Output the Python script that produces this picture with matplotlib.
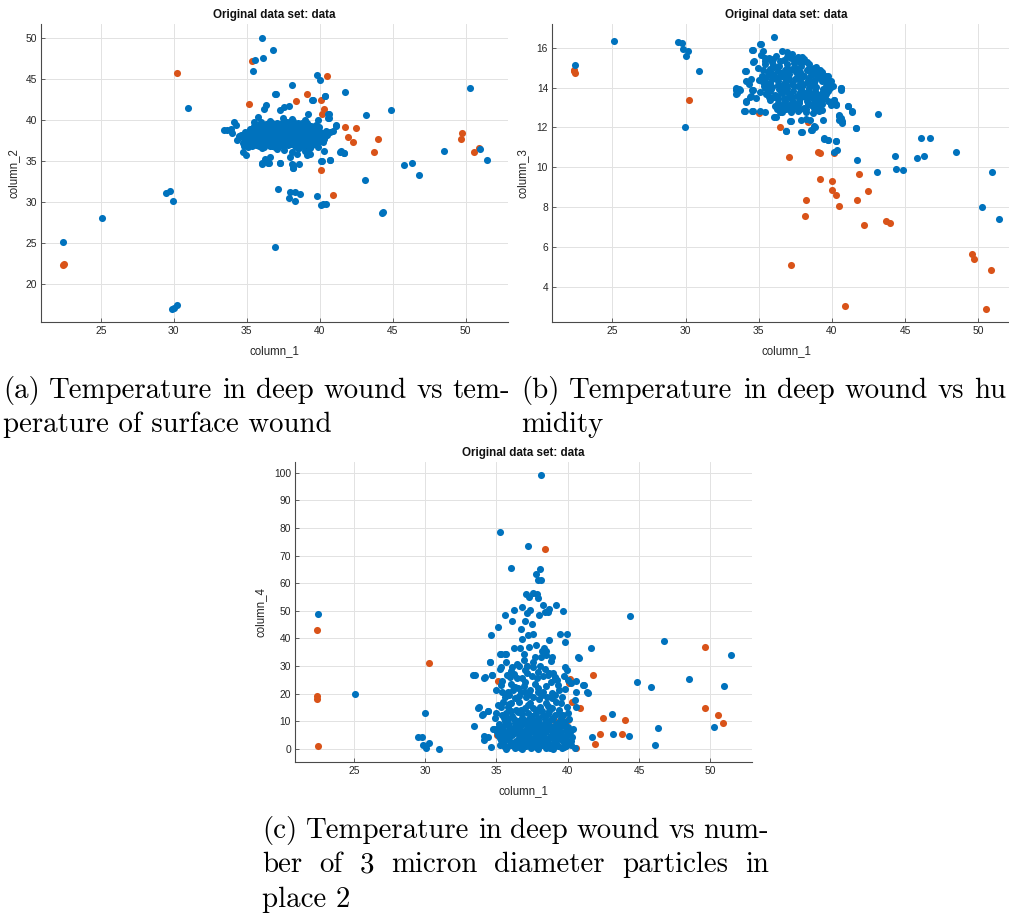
import matplotlib
matplotlib.use("Agg")
import matplotlib.pyplot as plt
import numpy as np

W, H = 1009, 917
BLUE = "#0072BD"
ORANGE = "#D95319"

# ---------------- panel (a): column_2 vs column_1 ----------------
a_blue = [
    # outliers
    (36.04, 50.0), (36.82, 48.58), (36.13, 47.52), (35.56, 47.27), (35.45, 45.93),
    (39.83, 45.52), (40.01, 44.87), (38.07, 44.26), (36.95, 43.2), (40.37, 42.92),
    (41.74, 43.41), (39.51, 42.47), (30.95, 41.41), (44.89, 41.25), (43.16, 40.6),
    (45.8, 34.45), (46.3, 34.74), (46.78, 33.27), (48.5, 36.2), (50.27, 43.94),
    (50.96, 36.4), (51.44, 35.1), (43.11, 32.7), (44.34, 28.7), (44.27, 28.6),
    (40.69, 35.1), (40.15, 34.94), (29.49, 31.07), (29.74, 31.32), (29.97, 30.06),
    (25.09, 28.06), (22.42, 25.13), (29.86, 16.87), (30.0, 17.03), (30.22, 17.32),
    (36.95, 24.4), (37.11, 31.6), (37.93, 31.2), (37.91, 30.42), (38.32, 31.12),
    (38.62, 30.91), (38.3, 30.14), (39.78, 30.63), (40.08, 29.65), (40.24, 29.69),
    (40.4, 29.77), (36.02, 34.66), (36.45, 34.74), (37.27, 34.74), (38.09, 34.57),
    (38.14, 34.17), (41.4, 36.12), (41.67, 36.0), (41.1, 39.25), (40.62, 40.76),
    (40.65, 40.27),
    # cluster edges
    (37.0, 43.17), (40.34, 42.9), (39.48, 42.36), (36.35, 41.75), (36.17, 41.34),
    (37.3, 41.14), (37.52, 41.54), (37.86, 41.67), (40.56, 40.65), (40.56, 40.24),
    (35.79, 40.33), (35.5, 39.72), (36.73, 39.63), (38.09, 40.12), (37.75, 39.72),
    (38.47, 39.51), (39.21, 40.65), (38.99, 40.0), (39.86, 39.92), (39.77, 39.31),
    (41.13, 39.31), (40.68, 38.5), (40.41, 38.1), (33.47, 38.78), (33.65, 38.7),
    (34.14, 39.72), (34.26, 39.31), (34.48, 37.97), (34.32, 37.56), (34.71, 37.15),
    (34.82, 36.75), (35.05, 36.67), (34.71, 36.06), (34.93, 35.65), (36.17, 36.67),
    (36.73, 36.75), (37.07, 36.46), (37.52, 36.34), (38.09, 36.06), (38.47, 35.77),
    (37.97, 35.45), (36.28, 35.24), (36.62, 35.45), (36.06, 34.72), (36.51, 34.72),
    (37.3, 34.72), (38.15, 34.43), (38.15, 34.15), (38.6, 34.55), (39.1, 35.65),
    (39.32, 35.85), (38.99, 36.14), (40.11, 34.92), (40.68, 35.04), (41.46, 36.14),
    (41.64, 35.98), (40.29, 36.14), (33.9, 38.9), (34.0, 38.4), (40.9, 38.6),
    # dense core
    (35.6, 36.9), (36.3, 37.0), (36.9, 36.7), (37.5, 36.8), (38.0, 37.1), (38.6, 36.6),
    (39.1, 36.9), (39.6, 37.0),
    (35.1, 37.3), (35.7, 37.4), (36.2, 37.2), (36.8, 37.3), (37.3, 37.5), (37.9, 37.2),
    (38.4, 37.4), (38.9, 37.3), (39.5, 37.2), (40.0, 37.5),
    (34.8, 37.7), (35.3, 37.8), (35.9, 37.6), (36.4, 37.7), (37.0, 37.9), (37.5, 37.6),
    (38.1, 37.8), (38.6, 37.7), (39.2, 37.6), (39.7, 37.9), (40.3, 37.7),
    (34.6, 38.2), (35.1, 38.0), (35.6, 38.1), (36.2, 38.2), (36.7, 38.0), (37.2, 38.1),
    (37.8, 38.3), (38.3, 38.0), (38.8, 38.1), (39.4, 38.2), (39.9, 38.0), (40.5, 38.2),
    (34.9, 38.5), (35.4, 38.6), (36.0, 38.4), (36.5, 38.5), (37.0, 38.6), (37.6, 38.4),
    (38.1, 38.5), (38.7, 38.6), (39.2, 38.4), (39.8, 38.5), (40.4, 38.6),
    (35.2, 38.9), (35.8, 39.0), (36.3, 38.8), (36.9, 38.9), (37.4, 39.0), (37.9, 38.8),
    (38.5, 38.9), (39.0, 39.0), (39.6, 38.8),
    (35.5, 39.3), (36.1, 39.2), (36.7, 39.4), (37.2, 39.3), (37.8, 39.2), (38.3, 39.4),
    (38.9, 39.3), (39.4, 39.2),
    (36.0, 39.7), (36.6, 39.8), (37.1, 39.6), (37.7, 39.7), (38.2, 39.8), (38.8, 39.6),
    (37.25, 38.3), (36.45, 37.95), (38.55, 38.35), (37.65, 37.05), (36.05, 36.6),
    (38.35, 36.7), (39.35, 36.5), (35.35, 37.05), (39.95, 39.1), (37.45, 40.2),
    (35.9, 37.1), (37.2, 37.1), (38.3, 37.0), (39.3, 37.5), (35.5, 37.55), (36.7, 37.5),
    (38.35, 37.6), (39.9, 37.3), (35.35, 38.3), (36.9, 38.3), (38.0, 38.2), (39.5, 38.6),
    (40.15, 38.4), (35.65, 38.75), (37.15, 38.75), (38.25, 38.7), (39.3, 38.75),
    (36.4, 39.1), (37.6, 39.0), (38.6, 39.1), (37.4, 39.55), (38.5, 39.6), (36.3, 39.5),
    (39.1, 39.6),
    (35.35, 36.85), (35.85, 36.8), (36.6, 36.85), (37.2, 36.75), (37.8, 36.9),
    (38.3, 36.85), (38.85, 36.75), (39.4, 36.8), (39.85, 36.7),
    (35.45, 37.2), (36.0, 37.3), (36.5, 37.35), (37.05, 37.2), (37.6, 37.35),
    (38.15, 37.25), (38.65, 37.2), (39.2, 37.3), (39.75, 37.4), (40.25, 37.3),
    (35.05, 37.6), (35.6, 37.7), (36.15, 37.55), (36.7, 37.75), (37.25, 37.7),
    (37.8, 37.6), (38.35, 37.75), (38.9, 37.55), (39.45, 37.7), (40.0, 37.65),
    (34.85, 38.05), (35.35, 38.1), (35.9, 38.0), (36.45, 38.15), (36.95, 38.05),
    (37.5, 38.2), (38.05, 38.0), (38.55, 38.15), (39.1, 38.05), (39.65, 38.15), (40.2, 38.1),
    (35.15, 38.45), (35.7, 38.5), (36.25, 38.55), (36.75, 38.45), (37.3, 38.5),
    (37.85, 38.55), (38.4, 38.45), (38.95, 38.5), (39.5, 38.4), (40.05, 38.55),
    (35.5, 38.85), (36.05, 38.9), (36.6, 38.95), (37.15, 38.85), (37.65, 38.9),
    (38.2, 38.95), (38.75, 38.85), (39.3, 38.95), (39.85, 38.85),
    (35.8, 39.3), (36.4, 39.35), (36.95, 39.25), (37.5, 39.35), (38.05, 39.3),
    (38.6, 39.25), (39.15, 39.35), (39.65, 39.25),
]
a_red = [
    (30.25, 45.73), (35.38, 47.15), (35.13, 41.98), (38.37, 42.35), (39.1, 43.2),
    (40.06, 42.47), (40.53, 45.32), (40.28, 41.29), (40.15, 40.68), (41.74, 39.09),
    (42.5, 38.97), (41.93, 37.95), (42.27, 37.3), (44.0, 37.63), (43.75, 36.08),
    (40.06, 33.92), (40.92, 30.79), (49.68, 37.71), (49.73, 38.36), (50.55, 36.04),
    (50.89, 36.61), (22.38, 22.32), (22.47, 22.36), (39.2, 36.4), (35.0, 37.9),
]

# ---------------- panel (b): column_3 vs column_1 ----------------
b_blue = [
    (22.45, 15.16), (25.09, 16.37), (29.49, 16.32), (29.74, 16.23), (29.85, 15.93),
    (30.19, 15.82), (30.03, 15.61), (30.94, 14.84), (29.96, 12.0), (36.02, 16.54),
    (35.11, 16.18), (34.56, 15.87), (34.61, 15.3), (34.06, 14.83), (33.42, 13.9),
    (33.42, 13.68), (33.65, 13.94), (33.97, 12.83), (34.52, 12.83), (34.1, 13.31),
    (34.4, 13.55), (34.56, 13.9), (36.07, 12.53), (36.84, 11.84), (37.14, 12.34),
    (37.89, 11.75), (38.59, 11.89), (38.84, 12.0), (39.39, 12.36), (39.48, 11.43),
    (39.75, 11.35), (40.25, 11.32), (40.32, 10.85), (40.14, 10.75), (41.12, 13.06),
    (41.39, 12.79), (41.62, 11.97), (41.71, 10.38), (40.6, 13.9), (40.62, 13.98),
    (40.48, 12.39), (40.71, 12.22), (40.48, 12.56), (40.25, 13.18), (40.14, 13.4),
    (43.12, 12.68), (43.08, 9.74), (44.28, 10.55), (44.35, 9.92), (44.85, 9.86),
    (46.08, 11.47), (46.72, 11.45), (45.81, 10.44), (46.27, 10.58), (48.45, 10.76),
    (50.23, 8.01), (50.93, 9.76), (51.39, 7.41),
    # cluster edges
    (35.14, 16.17), (34.62, 15.88), (35.29, 15.83), (35.18, 15.63), (35.41, 15.5),
    (34.68, 15.33), (34.95, 14.99), (34.12, 14.83), (34.5, 14.41), (34.16, 14.32),
    (34.34, 14.19), (33.48, 13.99), (33.71, 13.9), (33.51, 13.73), (34.62, 13.9),
    (34.46, 13.57), (34.84, 13.48), (34.16, 13.28), (34.05, 12.85), (34.62, 12.81),
    (35.07, 12.85), (35.41, 12.76), (36.15, 12.54), (36.43, 12.78), (37.17, 12.34),
    (36.88, 11.84), (37.94, 11.76), (37.9, 12.39), (38.24, 12.42), (38.53, 12.39),
    (38.8, 12.06), (38.62, 11.89), (39.48, 11.47), (39.75, 11.39), (40.27, 11.3),
    (39.93, 13.15), (40.27, 13.15), (40.16, 13.4), (40.5, 12.64), (40.72, 12.31),
    (40.61, 12.48), (41.11, 13.06), (41.4, 12.81), (41.63, 11.96), (39.93, 14.32),
    (40.05, 14.07), (39.71, 14.57), (40.61, 13.99), (39.55, 13.57), (39.48, 13.82),
    (36.6, 15.85), (36.9, 15.8), (37.3, 15.7), (37.7, 15.55), (38.3, 15.3),
    (38.9, 15.05), (39.3, 14.8), (39.7, 14.3), (35.0, 14.4), (35.1, 13.8),
    # dense core
    (35.7, 15.5), (36.2, 15.6), (36.7, 15.4), (37.2, 15.5), (37.7, 15.35), (38.1, 15.45),
    (35.4, 15.2), (35.9, 15.3), (36.4, 15.1), (36.9, 15.2), (37.4, 15.25), (37.9, 15.1),
    (38.4, 15.2), (38.8, 15.0),
    (35.3, 14.9), (35.8, 14.95), (36.3, 14.85), (36.8, 14.9), (37.3, 14.95), (37.8, 14.8),
    (38.3, 14.9), (38.8, 14.85), (39.2, 14.9),
    (35.2, 14.6), (35.6, 14.65), (36.1, 14.55), (36.6, 14.6), (37.1, 14.7), (37.6, 14.55),
    (38.1, 14.6), (38.6, 14.65), (39.1, 14.55), (39.6, 14.6),
    (35.3, 14.3), (35.8, 14.25), (36.3, 14.35), (36.8, 14.3), (37.3, 14.2), (37.8, 14.35),
    (38.3, 14.3), (38.8, 14.25), (39.3, 14.35), (39.8, 14.3),
    (35.4, 14.0), (35.9, 14.05), (36.4, 13.95), (36.9, 14.0), (37.4, 14.1), (37.9, 13.95),
    (38.4, 14.0), (38.9, 14.05), (39.4, 13.95), (39.9, 14.0),
    (35.5, 13.7), (36.1, 13.65), (36.6, 13.75), (37.1, 13.7), (37.6, 13.6), (38.1, 13.75),
    (38.6, 13.7), (39.1, 13.65), (39.6, 13.7),
    (35.8, 13.4), (36.3, 13.45), (36.8, 13.35), (37.3, 13.4), (37.8, 13.5), (38.3, 13.35),
    (38.8, 13.4), (39.3, 13.45), (39.7, 13.35),
    (36.1, 13.1), (36.6, 13.05), (37.1, 13.15), (37.6, 13.1), (38.1, 13.0), (38.6, 13.15),
    (39.1, 13.1),
    (36.6, 12.8), (37.2, 12.75), (37.7, 12.85), (38.2, 12.8), (38.7, 12.7), (39.1, 12.85),
    (36.05, 15.05), (37.05, 14.45), (38.05, 14.15), (36.55, 13.85), (38.55, 13.55),
    (37.55, 15.0), (35.55, 14.15), (39.05, 13.25),
    (35.95, 15.45), (36.95, 15.55), (37.95, 15.3), (35.6, 14.8), (36.55, 14.75),
    (37.55, 14.8), (38.55, 14.8), (35.9, 14.45), (36.85, 14.45), (37.85, 14.45),
    (38.85, 14.4), (39.35, 14.6), (35.65, 14.15), (36.65, 14.15), (37.65, 14.1),
    (38.65, 14.15), (39.6, 14.1), (35.8, 13.85), (36.85, 13.85), (37.85, 13.8),
    (38.85, 13.85), (39.75, 13.85), (36.05, 13.55), (37.05, 13.55), (38.05, 13.6),
    (39.05, 13.5), (36.35, 13.25), (37.35, 13.25), (38.35, 13.2), (39.35, 13.2),
    (36.85, 12.95), (37.85, 12.95), (38.85, 12.95),
    (35.45, 15.35), (35.95, 15.15), (36.45, 15.35), (36.95, 15.0), (37.45, 15.45),
    (37.95, 15.55), (38.45, 15.0), (38.95, 14.7),
    (35.45, 14.45), (35.95, 14.7), (36.45, 14.6), (36.95, 14.7), (37.45, 14.45),
    (37.95, 14.65), (38.45, 14.45), (38.95, 14.6), (39.45, 14.4),
    (35.35, 14.1), (35.85, 13.95), (36.35, 14.15), (36.85, 14.15), (37.35, 13.85),
    (37.85, 14.15), (38.35, 13.85), (38.85, 13.7), (39.35, 13.75), (39.85, 14.15),
    (35.7, 13.55), (36.25, 13.6), (36.75, 13.5), (37.25, 13.55), (37.75, 13.35),
    (38.25, 13.55), (38.75, 13.25), (39.25, 13.6),
    (36.25, 12.95), (36.75, 13.25), (37.25, 12.95), (37.75, 13.25), (38.25, 12.95),
    (38.75, 13.0), (39.3, 12.9),
]
b_red = [
    (22.38, 14.91), (22.38, 14.82), (22.43, 14.72), (30.24, 13.4), (35.02, 12.71),
    (36.48, 12.0), (37.09, 10.53), (38.37, 12.26), (39.05, 10.78), (39.16, 10.73),
    (40.14, 10.71), (39.18, 9.4), (40.03, 9.32), (40.03, 8.87), (40.28, 8.6),
    (38.23, 8.36), (38.18, 7.56), (40.48, 8.03), (41.87, 9.67), (42.44, 8.82),
    (41.69, 8.36), (42.21, 7.1), (43.72, 7.29), (43.99, 7.17), (37.18, 5.09),
    (40.89, 3.04), (49.57, 5.61), (49.68, 5.36), (50.84, 4.82), (50.5, 2.89),
]

# ---------------- panel (c): column_4 vs column_1 ----------------
c_blue = [
    # outliers
    (22.46, 48.8), (25.12, 20.0), (30.01, 12.9), (29.5, 4.1), (29.8, 4.1),
    (29.85, 1.2), (30.06, 0.2), (30.24, 2.2), (30.96, 0.0), (38.16, 99.2),
    (35.25, 78.7), (37.23, 73.3), (44.4, 48.1), (46.76, 39.0), (51.42, 33.9),
    (48.49, 25.4), (50.98, 22.9), (44.89, 24.0), (45.87, 22.5), (41.66, 36.6),
    (40.77, 33.0), (41.15, 23.1), (41.43, 20.3), (43.13, 12.7), (43.17, 5.4),
    (44.31, 4.6), (46.13, 1.3), (46.32, 7.5), (50.28, 7.7), (41.67, 4.3),
    (34.53, 31.5), (35.23, 34.3), (35.6, 34.3), (35.28, 29.0), (33.39, 26.8),
    (34.11, 25.8), (34.69, 26.6), (33.69, 14.7), (34.41, 13.5), (34.02, 12.4),
    (33.46, 8.3), (34.76, 7.0), (34.11, 4.6), (34.39, 4.2), (34.16, 3.3), (34.62, 0.7),
    # upper part of the column
    (36.04, 65.4), (38.09, 65.2), (37.78, 63.2), (37.93, 61.3), (38.16, 61.3),
    (37.07, 56.2), (37.56, 56.5), (37.82, 56.1), (37.31, 54.9), (37.93, 54.7),
    (35.6, 48.6), (36.22, 50.4), (36.78, 51.3), (37.18, 49.2), (37.38, 50.4),
    (38.0, 48.6), (38.3, 52.2), (38.71, 50.8), (39.16, 52.0), (39.67, 49.8),
    (36.11, 46.2), (36.98, 46.2), (37.49, 45.2), (38.38, 49.5), (38.64, 49.5),
    (35.11, 44.1), (36.73, 43.4), (34.64, 41.1), (37.2, 41.2), (37.6, 41.5),
    (38.71, 39.5), (39.49, 41.5), (39.93, 41.5), (39.78, 38.7),
    (36.82, 39.9), (36.22, 36.5), (36.67, 36.5), (37.31, 36.8), (37.76, 37.5),
    (38.33, 36.5), (38.22, 35.3), (38.49, 35.3),
    (35.33, 34.4), (35.67, 34.4), (36.93, 34.4), (37.73, 33.1), (38.16, 33.1),
    (38.93, 33.1), (38.82, 31.9), (40.71, 33.1),
    (34.56, 31.6), (35.31, 29.5), (36.07, 29.5), (36.42, 30.7), (36.58, 29.8),
    (37.16, 30.1), (37.56, 29.5), (38.04, 30.1), (38.38, 28.8), (38.71, 27.4),
    (39.11, 25.5), (39.27, 25.0), (39.82, 29.6), (39.93, 28.4), (39.0, 27.6),
    (33.49, 26.8), (34.2, 25.9), (34.71, 26.8), (35.42, 24.7), (35.71, 26.8),
    (35.93, 25.9), (36.22, 27.2), (36.44, 25.6), (36.76, 25.6), (37.16, 27.4),
    (37.49, 26.2), (37.82, 25.6), (38.27, 26.2), (38.62, 26.8), (39.11, 25.9),
    (39.71, 26.2), (40.04, 25.0), (40.2, 23.8), (40.6, 24.7), (41.04, 23.2), (41.38, 20.7),
    (35.0, 21.3), (35.38, 20.7), (35.82, 20.4), (36.16, 21.1), (36.49, 21.9),
    (36.71, 20.4), (36.98, 20.7), (37.38, 21.3), (37.6, 18.9), (37.93, 20.7),
    (38.27, 20.4), (38.53, 18.9), (38.93, 20.1), (39.42, 21.1), (39.82, 21.6), (40.6, 20.7),
    (35.3, 23.0), (36.0, 23.4), (36.9, 22.8), (37.7, 23.6), (38.5, 22.9), (39.3, 23.2),
    (35.6, 18.6), (36.3, 18.2), (37.1, 18.7), (38.0, 17.9), (38.9, 18.4), (39.6, 18.8),
    (33.76, 15.3), (34.04, 12.6), (34.44, 13.5), (35.11, 15.9), (35.49, 17.1),
    (35.78, 15.3), (36.04, 16.5), (36.38, 14.1), (36.6, 17.1), (37.04, 14.7),
    (37.38, 16.5), (37.78, 14.1), (38.04, 15.3), (38.49, 16.5), (38.71, 13.5),
    (39.16, 17.1), (39.38, 14.1), (39.93, 15.3), (40.49, 17.7), (40.6, 15.3),
    # dense bottom of the column
    (35.0, 13.0), (35.7, 12.8), (36.5, 13.2), (37.2, 12.9), (37.8, 13.1), (38.6, 12.7),
    (39.4, 13.0), (40.0, 12.8),
    (34.9, 11.0), (35.5, 11.2), (36.2, 10.8), (36.8, 11.1), (37.3, 10.9), (37.9, 11.2),
    (38.4, 10.8), (39.0, 11.0), (39.5, 11.3), (40.1, 10.9),
    (35.2, 9.0), (35.8, 9.2), (36.4, 8.8), (37.0, 9.1), (37.5, 8.9), (38.0, 9.2),
    (38.6, 8.8), (39.2, 9.0), (39.8, 9.1),
    (34.8, 7.0), (35.4, 7.2), (35.9, 6.8), (36.5, 7.1), (37.1, 6.9), (37.6, 7.2),
    (38.2, 6.8), (38.7, 7.0), (39.3, 7.1), (39.9, 6.9), (40.4, 7.0),
    (35.1, 5.0), (35.6, 5.2), (36.1, 4.8), (36.7, 5.1), (37.2, 4.9), (37.8, 5.2),
    (38.3, 4.8), (38.9, 5.0), (39.4, 5.1), (40.0, 4.9),
    (35.3, 3.0), (35.8, 3.2), (36.4, 2.8), (36.9, 3.1), (37.4, 2.9), (38.0, 3.2),
    (38.5, 2.8), (39.1, 3.0), (39.6, 3.1), (40.2, 2.9),
    (35.5, 1.0), (36.0, 1.2), (36.6, 0.8), (37.1, 1.1), (37.7, 0.9), (38.2, 1.2),
    (38.8, 0.8), (39.3, 1.0), (39.9, 1.1),
    (35.7, 0.0), (36.3, 0.1), (36.8, 0.0), (37.4, 0.2), (37.9, 0.0), (38.5, 0.1),
    (39.0, 0.0), (39.6, 0.2), (40.5, 0.1),
    (36.35, 6.0), (37.35, 4.0), (38.45, 6.1), (36.85, 2.0), (37.95, 1.9), (38.95, 3.9),
    (35.45, 2.0), (36.0, 2.1), (36.55, 1.9), (37.05, 2.2), (37.6, 2.0), (38.15, 2.1),
    (38.65, 1.9), (39.2, 2.1), (39.75, 2.0),
    (35.25, 4.0), (35.8, 4.1), (36.6, 3.9), (37.1, 4.2), (37.7, 4.0), (38.2, 4.1),
    (38.7, 3.9), (39.3, 4.1), (39.8, 4.0), (40.3, 4.2),
    (35.05, 6.0), (35.6, 6.2), (36.1, 5.9), (36.85, 6.1), (37.4, 6.0), (37.9, 6.2),
    (38.95, 5.9), (39.55, 6.1), (40.15, 6.0),
    (35.35, 8.0), (35.9, 8.1), (36.65, 7.9), (37.25, 8.2), (37.8, 8.0), (38.35, 8.1),
    (38.9, 7.9), (39.5, 8.1), (40.05, 8.0),
    (35.6, 10.0), (36.5, 9.9), (37.6, 10.1), (38.7, 10.0), (39.7, 10.1),
    (35.3, 15.0), (36.7, 14.0), (37.5, 12.0), (38.2, 13.8), (39.1, 12.2), (36.1, 12.0),
    (35.25, 1.5), (35.75, 0.5), (36.25, 1.6), (36.75, 0.4), (37.25, 1.5), (37.75, 0.5),
    (38.25, 1.6), (38.75, 0.4), (39.25, 1.5), (39.75, 0.6), (40.25, 1.4),
    (35.55, 3.5), (36.05, 2.6), (36.55, 3.6), (37.05, 2.6), (37.55, 3.5), (38.05, 2.5),
    (38.55, 3.6), (39.05, 2.5), (39.55, 3.5), (40.05, 2.6),
    (35.3, 5.5), (35.8, 4.6), (36.3, 5.6), (36.8, 4.5), (37.3, 5.6), (37.8, 4.5),
    (38.3, 5.5), (38.8, 4.5), (39.3, 5.6), (39.8, 4.6),
    (35.1, 7.6), (35.6, 8.6), (36.2, 7.5), (36.7, 8.6), (37.2, 7.5), (37.7, 8.5),
    (38.2, 7.6), (38.7, 8.6), (39.2, 7.5), (39.7, 8.5),
    (35.8, 10.6), (36.3, 9.5), (36.9, 10.5), (37.4, 9.6), (37.9, 10.5), (38.4, 9.5),
    (38.9, 10.6), (39.4, 9.6),
    (35.4, 12.3), (36.0, 13.8), (36.8, 12.5), (37.6, 14.9), (38.3, 12.2), (38.9, 14.8),
    (39.7, 12.4), (35.9, 16.3), (37.2, 16.0), (38.6, 15.6), (39.5, 16.4),
    (35.9, 19.6), (36.6, 19.2), (37.3, 19.8), (38.2, 19.3), (39.1, 19.6), (36.3, 22.5),
    (37.0, 24.2), (37.9, 22.0), (38.8, 24.3), (36.0, 28.2), (37.0, 28.6), (37.9, 27.8),
    (35.7, 31.5), (36.9, 32.2), (37.6, 31.4), (38.5, 33.9),
]
c_red = [
    (22.39, 43.1), (22.39, 19.2), (22.39, 18.1), (22.48, 1.1), (30.29, 31.2),
    (38.42, 72.3), (35.14, 24.4), (35.02, 4.8), (37.16, 30.1), (40.19, 25.4),
    (40.07, 23.8), (40.28, 17.0), (40.89, 14.7), (40.03, 10.4), (39.07, 10.4),
    (41.75, 26.6), (41.92, 1.6), (42.26, 5.3), (42.5, 11.0), (43.78, 5.4),
    (44.01, 10.3), (40.61, 0.2), (49.6, 37.0), (49.6, 14.7), (50.56, 12.4),
    (50.89, 9.2),
]

x_ticks = [25, 30, 35, 40, 45, 50]
a_yticks = [20, 25, 30, 35, 40, 45, 50]
b_yticks = [4, 6, 8, 10, 12, 14, 16]
c_yticks = [0, 10, 20, 30, 40, 50, 60, 70, 80, 90, 100]

caption_a = ["(a) Temperature in deep wound vs tem-", "perature of surface wound"]
caption_b = ["(b) Temperature in deep wound vs hu", "midity"]
caption_c = ["(c) Temperature in deep wound vs num-",
             "ber of 3 micron diameter particles in", "place 2"]

plt.rcParams["font.family"] = ["Liberation Sans", "DejaVu Sans"]

fig = plt.figure(figsize=(W / 100, H / 100), dpi=100)


def px_rect(l, t, r, b):
    return [l / W, 1 - b / H, (r - l) / W, (b - t) / H]


def scatter_panel(rect, blue, red, ylim, yticks, ylabel, ylab_x, xlab_y):
    ax = fig.add_axes(rect)
    red = np.array(red)
    blue = np.array(blue)
    ax.scatter(red[:, 0], red[:, 1], s=26, color=ORANGE, linewidths=0, zorder=2)
    ax.scatter(blue[:, 0], blue[:, 1], s=26, color=BLUE, linewidths=0, zorder=3)
    ax.set_xlim(20.9, 52.9)
    ax.set_ylim(*ylim)
    ax.set_xticks(x_ticks)
    ax.set_yticks(yticks)
    ax.grid(True, color="#e2e2e2", linewidth=0.7)
    ax.set_axisbelow(True)
    for side in ("top", "right"):
        ax.spines[side].set_visible(False)
    for side in ("left", "bottom"):
        ax.spines[side].set_color("#4a4a4a")
        ax.spines[side].set_linewidth(0.8)
    ax.tick_params(direction="in", length=3, width=0.6, colors="#4a4a4a",
                   labelsize=7.4, labelcolor="#262626", pad=3)
    ax.set_title("Original data set: data", fontsize=8.4, fontweight="bold",
                 color="#111111", pad=4)
    ax.set_xlabel("column_1", fontsize=8.3, color="#262626")
    ax.set_ylabel(ylabel, fontsize=8.3, color="#262626")
    ax.xaxis.set_label_coords(0.5, xlab_y)
    ax.yaxis.set_label_coords(ylab_x, 0.5)
    return ax


scatter_panel(px_rect(41, 24, 508, 322), a_blue, a_red, (15.3, 51.7),
              a_yticks, "column_2", -0.045, -0.078)
scatter_panel(px_rect(552.3, 24, 1020.8, 322.3), b_blue, b_red, (2.2, 17.2),
              b_yticks, "column_3", -0.05, -0.078)
scatter_panel(px_rect(295.3, 461.7, 751.7, 761.7), c_blue, c_red, (-4.7, 104),
              c_yticks, "column_4", -0.062, -0.078)

# captions, set like a justified LaTeX paragraph
renderer = fig.canvas.get_renderer()
CAP = dict(fontfamily="cmr10", fontsize=20.8, color="black", va="baseline", ha="left")


def caption_line(text, x0, x1, y, justify):
    if not justify:
        fig.text(x0 / W, 1 - y / H, text, **CAP)
        return
    words = text.split(" ")
    items = [fig.text(0, 1 - y / H, w, **CAP) for w in words]
    widths = [t.get_window_extent(renderer).width for t in items]
    gap = (x1 - x0 - sum(widths)) / (len(words) - 1)
    x = x0
    for t, w in zip(items, widths):
        t.set_x(x / W)
        x += w + gap


def caption(lines, x0, x1, y0, step=34.5):
    for i, line in enumerate(lines):
        caption_line(line, x0, x1, y0 + i * step, i < len(lines) - 1)


caption(caption_a, 3, 510, 398)
caption(caption_b, 521, 1006, 398)
caption(caption_c, 262, 769, 838)

fig.savefig("out.png", dpi=100)
